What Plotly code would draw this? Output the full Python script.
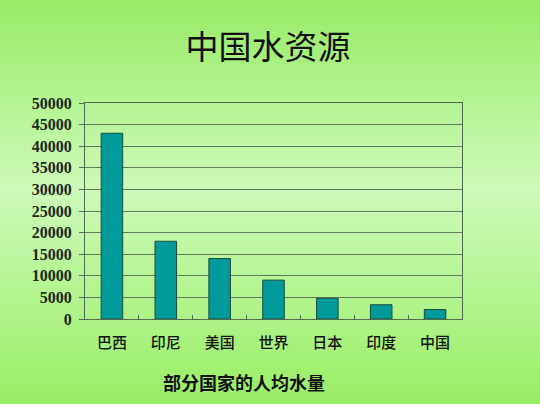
import base64
import plotly.graph_objects as go

# 部分国家的人均水量
countries = ["巴西", "印尼", "美国", "世界", "日本", "印度", "中国"]
water_per_capita = [43000, 18000, 14000, 9000, 4800, 3300, 2200]
y_ticks = [0, 5000, 10000, 15000, 20000, 25000, 30000, 35000, 40000, 45000, 50000]

W, H = 540, 404
L, R, T, B = 85, 78, 103, 85
pw, ph = W - L - R, H - T - B

# 背景渐变 (上下深绿, 中间浅绿)
svg = (
    '<svg xmlns="http://www.w3.org/2000/svg" width="540" height="404" preserveAspectRatio="none">'
    '<defs><linearGradient id="g" x1="0" y1="0" x2="0" y2="1">'
    '<stop offset="0" stop-color="#98ec66"/>'
    '<stop offset="0.47" stop-color="#cdfab9"/>'
    '<stop offset="1" stop-color="#98ee64"/>'
    '</linearGradient></defs>'
    '<rect width="540" height="404" fill="url(#g)"/></svg>'
)
bg_src = "data:image/svg+xml;base64," + base64.b64encode(svg.encode()).decode()

fig = go.Figure()
fig.add_trace(go.Bar(
    x=countries, y=water_per_capita,
    width=0.4,
    marker=dict(color="#009a9a", line=dict(color="#1f4a3a", width=1)),
    showlegend=False,
))

fig.update_layout(
    width=W, height=H,
    margin=dict(l=L, r=R, t=T, b=B),
    paper_bgcolor="#b8f49a",
    plot_bgcolor="rgba(0,0,0,0)",
    images=[dict(
        source=bg_src, xref="paper", yref="paper",
        x=-L / pw, y=1 + T / ph, sizex=W / pw, sizey=H / ph,
        xanchor="left", yanchor="top", sizing="stretch", layer="below",
    )],
    title=dict(
        text="中国水资源", x=(268 / W), xanchor="center", y=1 - 47 / H, yanchor="middle",
        font=dict(family="Noto Sans CJK SC", size=33, color="#111111", weight=400),
    ),
    bargap=0.6,
)

fig.update_xaxes(
    type="category",
    showline=True, linecolor="#4f6a4f", linewidth=1, mirror=True,
    ticks="inside", tickson="boundaries", ticklen=4, tickcolor="#4f6a4f",
    tickfont=dict(family="Noto Sans CJK SC", size=15, color="#111111", weight=500),
    ticklabelstandoff=10,
    showgrid=False,
)
fig.update_yaxes(
    range=[0, 50000],
    tickvals=y_ticks, ticktext=[str(v) for v in y_ticks],
    showline=True, linecolor="#4f6a4f", linewidth=1, mirror=True,
    ticks="outside", ticklen=5, tickcolor="#4f6a4f",
    ticklabelstandoff=4,
    showgrid=True, gridcolor="#5f7a5f", gridwidth=1,
    zeroline=False,
    tickfont=dict(family="Liberation Serif", size=16, color="#1a2a1a", weight="bold"),
)

fig.add_annotation(
    text="<b>部分国家的人均水量</b>", xref="paper", yref="paper",
    x=(244 - L) / pw, y=-(382 - (T + ph)) / ph, xanchor="center", yanchor="middle",
    showarrow=False, font=dict(family="Noto Sans CJK SC", size=18, color="#111111"),
)

fig.write_html("out.html", config={"displayModeBar": False},
               post_script="document.body.style.margin='0';")
